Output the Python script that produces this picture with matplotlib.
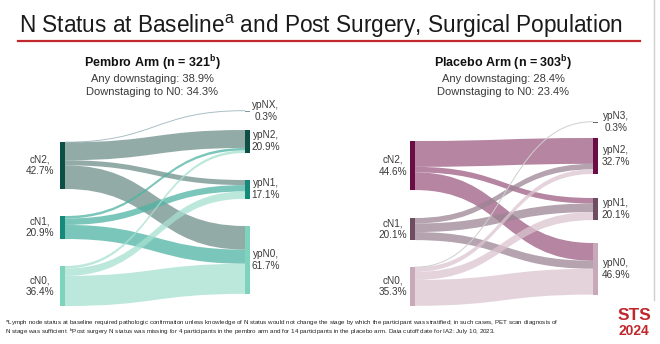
import numpy as np
import matplotlib.pyplot as plt
from matplotlib.path import Path
from matplotlib.patches import PathPatch, Rectangle

plt.rcParams['font.family'] = ['Liberation Sans', 'DejaVu Sans']
plt.rcParams['mathtext.fontset'] = 'custom'
plt.rcParams['mathtext.rm'] = 'Liberation Sans'
plt.rcParams['mathtext.bf'] = 'Liberation Sans:bold'

# ---- data (percent of arm) ----
pembro_src = ['cN2', 'cN1', 'cN0']
pembro_src_pct = [42.7, 20.9, 36.4]
pembro_tgt = ['ypNX', 'ypN2', 'ypN1', 'ypN0']
pembro_tgt_pct = [0.3, 20.9, 17.1, 61.7]
# rows = baseline stage, cols = post surgery stage
pembro_flows = [[0.3, 16.3, 4.6, 21.5],
                [0.0, 2.3, 5.8, 12.8],
                [0.0, 2.3, 6.7, 27.4]]

placebo_src = ['cN2', 'cN1', 'cN0']
placebo_src_pct = [44.6, 20.1, 35.3]
placebo_tgt = ['ypN3', 'ypN2', 'ypN1', 'ypN0']
placebo_tgt_pct = [0.3, 32.7, 20.1, 46.9]
placebo_flows = [[0.0, 23.5, 5.0, 16.1],
                 [0.0, 5.0, 7.8, 7.3],
                 [0.3, 4.2, 7.3, 23.5]]

pembro_title = r'Pembro Arm (n = 321$^{\mathbf{b}}$)'
pembro_stats = ['Any downstaging: 38.9%', 'Downstaging to N0: 34.3%']
placebo_title = r'Placebo Arm (n = 303$^{\mathbf{b}}$)'
placebo_stats = ['Any downstaging: 28.4%', 'Downstaging to N0: 23.4%']

# ---- styles ----
pembro_node_col = ['#0d4f45', '#17897a', '#7dd3bc']
pembro_tgt_col = ['#7f95a3', '#0d4f45', '#17897a', '#7dd3bc']
pembro_flow_col = ['#6f8f8a', '#4fb3a3', '#a6e0d0']
placebo_node_col = ['#6b0d45', '#6e4d60', '#c8a9b9']
placebo_tgt_col = ['#666666', '#6b0d45', '#6e4d60', '#c8a9b9']
placebo_flow_col = ['#9d5c82', '#9c8494', '#dbc5d0']

K = 1.1  # pixels per percent
TXT = '#3a3a3a'


def band(ax, x0, y0a, y0b, x1, y1a, y1b, color):
    xm = (x0 + x1) / 2
    verts = [(x0, y0a), (xm, y0a), (xm, y1a), (x1, y1a), (x1, y1b),
             (xm, y1b), (xm, y0b), (x0, y0b), (x0, y0a)]
    codes = [Path.MOVETO, Path.CURVE4, Path.CURVE4, Path.CURVE4, Path.LINETO,
             Path.CURVE4, Path.CURVE4, Path.CURVE4, Path.CLOSEPOLY]
    ax.add_patch(PathPatch(Path(verts, codes), facecolor=color, edgecolor='none',
                           alpha=0.75, zorder=2))


def thin_flow(ax, x0, y0, x1, y1, color):
    xm = (x0 + x1) / 2
    p = Path([(x0, y0), (xm, y0), (xm, y1), (x1, y1)],
             [Path.MOVETO, Path.CURVE4, Path.CURVE4, Path.CURVE4])
    ax.add_patch(PathPatch(p, facecolor='none', edgecolor=color, lw=0.7, zorder=2))


def sankey(ax, src, src_pct, tgt, tgt_pct, flows, xl, xr, src_top, tgt_top,
           node_col, tgt_col, flow_col, thin_col, lab_l, lab_r):
    w = 5
    flows = np.array(flows)
    src_off = list(src_top)
    tgt_off = list(tgt_top)
    for i in range(len(src)):
        for j in range(len(tgt)):
            v = flows[i, j]
            if v <= 0:
                continue
            h = v * K
            if v < 1:
                thin_flow(ax, xl + w, src_off[i] + h / 2, xr, tgt_off[j] + h / 2, thin_col)
            else:
                band(ax, xl + w, src_off[i], src_off[i] + h, xr,
                     tgt_off[j], tgt_off[j] + h, flow_col[i])
            src_off[i] += h
            tgt_off[j] += h
    for i in range(len(src)):
        h = src_pct[i] * K
        ax.add_patch(Rectangle((xl, src_top[i]), w, h, color=node_col[i], lw=0, zorder=3))
        ax.text(lab_l, src_top[i] + h / 2, f'{src[i]},\n{src_pct[i]}%', ha='center',
                va='center', fontsize=7.2, color=TXT, linespacing=1.25)
    for j in range(len(tgt)):
        h = max(tgt_pct[j] * K, 1.2)
        ax.add_patch(Rectangle((xr, tgt_top[j]), w, h, color=tgt_col[j], lw=0, zorder=3))
        ax.text(lab_r, tgt_top[j] + h / 2, f'{tgt[j]},\n{tgt_pct[j]}%', ha='center',
                va='center', fontsize=7.2, color=TXT, linespacing=1.25)


fig = plt.figure(figsize=(6.6, 3.44), dpi=100)
ax = fig.add_axes([0, 0, 1, 1])
ax.set_xlim(0, 660)
ax.set_ylim(344, 0)
ax.axis('off')

ax.text(19, 33, r'N Status at Baseline$^{\mathrm{a}}$ and Post Surgery, Surgical Population',
        fontsize=16.3, color='#1a1a1a', va='baseline', ha='left')
ax.plot([18, 640], [41, 41], color='#c0282d', lw=1.6)
ax.plot([654, 654], [0, 300], color='#cfcfcf', lw=1)

for cx, ttl, stats in [(152, pembro_title, pembro_stats), (503, placebo_title, placebo_stats)]:
    ax.text(cx, 63, ttl, ha='center', va='center', fontsize=9, fontweight='bold', color='#111111')
    ax.text(cx, 79, stats[0], ha='center', va='center', fontsize=8, color=TXT)
    ax.text(cx, 92, stats[1], ha='center', va='center', fontsize=8, color=TXT)

sankey(ax, pembro_src, pembro_src_pct, pembro_tgt, pembro_tgt_pct, pembro_flows,
       60, 245, [142, 216, 266], [110.5, 130, 180, 226],
       pembro_node_col, pembro_tgt_col, pembro_flow_col, '#a9bfc5', 40, 266)
sankey(ax, placebo_src, placebo_src_pct, placebo_tgt, placebo_tgt_pct, placebo_flows,
       410, 593, [141, 218, 267], [121.5, 138, 198, 243],
       placebo_node_col, placebo_tgt_col, placebo_flow_col, '#cfcfcf', 393, 616)

foot1 = (r'$^{\mathrm{a}}$Lymph node status at baseline required pathologic confirmation unless knowledge '
         'of N status would not change the stage by which the participant was stratified; in such cases, '
         'PET scan diagnosis of')
foot2 = (r'N stage was sufficient. $^{\mathrm{b}}$Post surgery N status was missing for 4 participants in the '
         'pembro arm and for 14 participants in the placebo arm. Data cutoff date for IA2: July 10, 2023.')
ax.text(5, 323, foot1, fontsize=4.5, color='#222222', va='center', ha='left')
ax.text(5, 332, foot2, fontsize=4.5, color='#222222', va='center', ha='left')

ax.text(634, 315, 'STS', fontsize=12.5, fontweight='bold', color='#c0282d', ha='center', va='center')
ax.text(634, 331, '2024', fontsize=10, fontweight='bold', color='#c0282d', ha='center', va='center')

fig.savefig('out.png', dpi=100)
